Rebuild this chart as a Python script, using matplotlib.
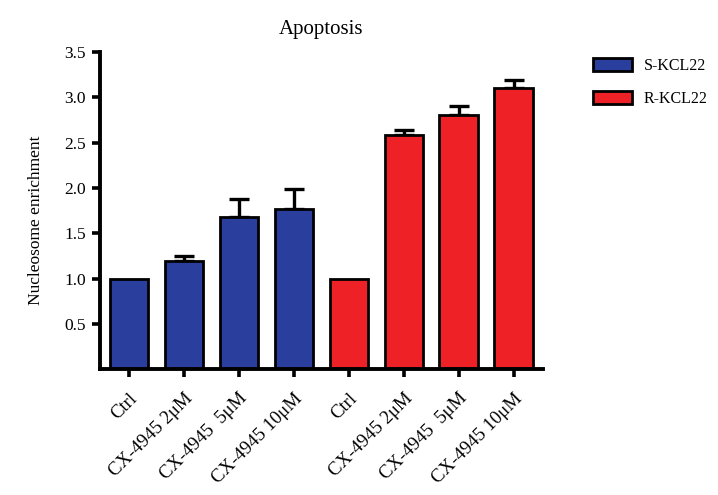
import matplotlib
matplotlib.use("Agg")
import matplotlib.pyplot as plt
import numpy as np
from matplotlib.patches import Patch

categories = ["Ctrl", "CX-4945 2μM", "CX-4945  5μM", "CX-4945 10μM",
              "Ctrl", "CX-4945 2μM", "CX-4945  5μM", "CX-4945 10μM"]
s_values = [1.00, 1.19, 1.68, 1.77]
s_errors = [0.00, 0.06, 0.20, 0.22]
r_values = [1.00, 2.58, 2.81, 3.11]
r_errors = [0.00, 0.06, 0.10, 0.08]
yticks = [0.5, 1.0, 1.5, 2.0, 2.5, 3.0, 3.5]

blue = "#2a3f9d"
red = "#ee2226"

plt.rcParams['font.family'] = ['Liberation Serif', 'DejaVu Serif']

fig = plt.figure(figsize=(7.18, 4.95), dpi=100)
ax = fig.add_axes([0.139, 0.2545, 0.617, 0.64])

x = np.arange(len(categories))
vals = np.array(s_values + r_values)
errs = np.array(s_errors + r_errors)
colors = [blue] * len(s_values) + [red] * len(r_values)

m = errs > 0
ax.errorbar(x[m], vals[m], yerr=[np.zeros(m.sum()), errs[m]], fmt='none',
            ecolor='black', elinewidth=2.4, capsize=7.5, capthick=2.4, zorder=1)
ax.bar(x, vals, width=0.7, color=colors, edgecolor='black', linewidth=2, zorder=2)

ax.set_xlim(-0.53, 7.53)
ax.set_ylim(0, 3.5)
ax.set_yticks(yticks)
ax.set_yticklabels([f"{v:.1f}" for v in yticks], fontsize=12.5)
ax.set_xticks(x)
ax.set_xticklabels(categories, rotation=45, ha='right', rotation_mode='anchor', fontsize=13.5)

for s in ['top', 'right']:
    ax.spines[s].set_visible(False)
for s in ['left', 'bottom']:
    ax.spines[s].set_linewidth(2.8)
ax.tick_params(axis='both', width=2.6, length=6, direction='out', pad=4)
ax.tick_params(axis='x', pad=9)

ax.set_ylabel("Nucleosome enrichment", fontsize=12.5)
ax.yaxis.set_label_coords(-0.125, 0.47)
ax.set_title("Apoptosis", fontsize=15, pad=13)

handles = [Patch(facecolor=blue, edgecolor='black', linewidth=2, label="S-KCL22"),
           Patch(facecolor=red, edgecolor='black', linewidth=2, label="R-KCL22")]
fig.legend(handles=handles, loc='upper left', bbox_to_anchor=(0.826, 0.883),
           frameon=False, fontsize=11.5, handlelength=2.45, handleheight=0.9,
           labelspacing=1.05, handletextpad=0.7, borderpad=0, borderaxespad=0)

fig.savefig("out.png", dpi=100)
